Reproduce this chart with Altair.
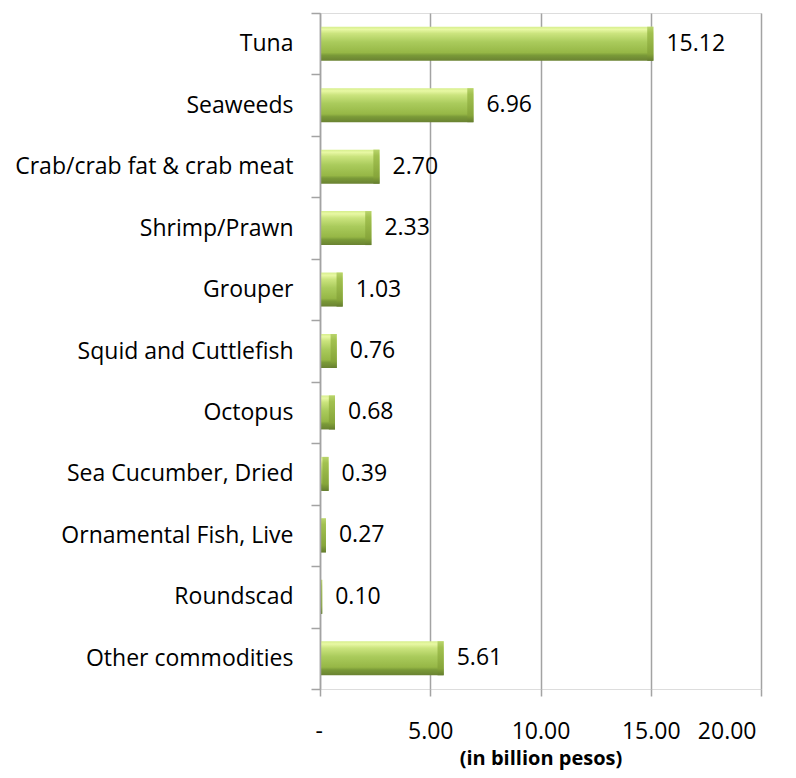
import altair as alt
import pandas as pd

categories = ["Tuna", "Seaweeds", "Crab/crab fat & crab meat", "Shrimp/Prawn",
              "Grouper", "Squid and Cuttlefish", "Octopus", "Sea Cucumber, Dried",
              "Ornamental Fish, Live", "Roundscad", "Other commodities"]
values = [15.12, 6.96, 2.70, 2.33, 1.03, 0.76, 0.68, 0.39, 0.27, 0.10, 5.61]
x_ticks = [0, 5, 10, 15, 20]

df = pd.DataFrame({"cat": categories, "val": values})

FONT = "Open Sans"
GRID = "#a3a3a3"

y_enc = alt.Y("cat:N", sort=categories,
              scale=alt.Scale(paddingInner=0, paddingOuter=0),
              axis=alt.Axis(title=None, labelFont=FONT, labelFontSize=23, labelColor="#000000",
                            tickBand="extent", tickSize=9, tickColor=GRID, tickWidth=1.5,
                            domainColor=GRID, domainWidth=1.5, labelPadding=18,
                            labelLimit=400, grid=False, zindex=1))

x_scale = alt.Scale(domain=[0, 20], nice=False)

main_grad = alt.Gradient(
    gradient="linear", x1=0, x2=0, y1=0, y2=1,
    stops=[alt.GradientStop(offset=0, color="#d6ee8c"),
           alt.GradientStop(offset=0.08, color="#e8f8a4"),
           alt.GradientStop(offset=0.2, color="#cbe47e"),
           alt.GradientStop(offset=0.45, color="#aacb5c"),
           alt.GradientStop(offset=0.76, color="#96b746"),
           alt.GradientStop(offset=0.84, color="#7a9a38"),
           alt.GradientStop(offset=1, color="#6a8232")])

bevel_grad = alt.Gradient(
    gradient="linear", x1=0, x2=0, y1=0, y2=1,
    stops=[alt.GradientStop(offset=0, color="#b9d46c"),
           alt.GradientStop(offset=0.18, color="#a2c150"),
           alt.GradientStop(offset=0.8, color="#86a53a"),
           alt.GradientStop(offset=1, color="#647d2e")])

base = alt.Chart(df)

bars = base.mark_bar(size=34, color=main_grad).encode(
    y=y_enc,
    x=alt.X("val:Q", scale=x_scale,
            axis=alt.Axis(values=x_ticks, grid=True, gridColor=GRID, gridWidth=1.5,
                          domain=False, tickSize=7, tickColor=GRID, tickWidth=1.5,
                          labelFont=FONT, labelFontSize=23, labelColor="#000000",
                          labelPadding=24,
                          labelExpr="datum.value == 0 ? '-' : format(datum.value, '.2f')",
                          labelOffset={"condition": {"test": "datum.value == 0 || datum.value == 20",
                                                     "value": -5}, "value": 0},
                          title="(in billion pesos)", titleFont=FONT, titleFontSize=20,
                          titleFontWeight="bold", titleColor="#000000", titlePadding=5)),
)

bevel = base.transform_calculate(
    x0="max(0, datum.val - 0.28)"
).mark_bar(size=34, color=bevel_grad).encode(
    y=alt.Y("cat:N", sort=categories),
    x=alt.X("x0:Q", scale=x_scale),
    x2="val:Q",
)

labels = base.mark_text(align="left", baseline="middle", dx=13, font=FONT,
                        fontSize=23, color="#000000").encode(
    y=alt.Y("cat:N", sort=categories),
    x=alt.X("val:Q", scale=x_scale),
    text=alt.Text("val:Q", format=".2f"),
)

chart = alt.layer(bars, bevel, labels).properties(
    width=441, height=676,
    autosize=alt.AutoSizeParams(type="none"),
    padding={"left": 312, "top": 5, "right": 27, "bottom": 81},
).configure_view(stroke=None).configure(background="white")

chart.save("out.html", embed_options={"renderer": "svg", "actions": False})
